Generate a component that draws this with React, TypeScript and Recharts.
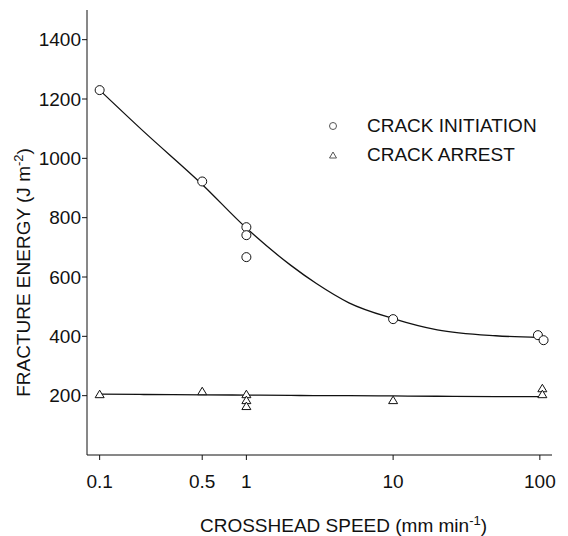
import { ComposedChart, Line, Scatter, XAxis, YAxis, Label } from "recharts";

// crosshead speed (mm/min) ticks and fracture energy ticks
const speedTicks = [0.1, 0.5, 1, 10, 100];
const energyTicks = [200, 400, 600, 800, 1000, 1200, 1400];

// measured points
const initiationSpeed = [0.1, 0.5, 1, 1, 1, 10, 97, 106];
const initiationEnergy = [1230, 922, 768, 741, 667, 458, 404, 387];
const arrestSpeed = [0.1, 0.5, 1, 1, 1, 10, 104, 104];
const arrestEnergy = [205, 215, 205, 185, 165, 185, 225, 205];

// hand-drawn fit curves
const fitSpeed = [0.1, 0.2, 0.5, 1, 2, 3, 5, 10, 20, 50, 100];
const initiationFit = [1230, 1090, 912, 765, 640, 578, 513, 460, 422, 402, 396];
const arrestFit = [205, 204, 203, 202, 201, 200, 200, 199, 198, 197, 197];

const seriesNames = ["CRACK INITIATION", "CRACK ARREST"];

const zip = (xs: number[], ys: number[]) => xs.map((x, i) => ({ x, y: ys[i] }));

const initiationPoints = zip(initiationSpeed, initiationEnergy);
const arrestPoints = zip(arrestSpeed, arrestEnergy);
const initiationCurve = zip(fitSpeed, initiationFit);
const arrestCurve = zip(fitSpeed, arrestFit);

const FONT = '"Liberation Sans", Arial, sans-serif';
const INK = "#111";

const CircleMark = (props: any) => (
  <circle cx={props.cx} cy={props.cy} r={4.5} fill="#fff" stroke={INK} strokeWidth={1} />
);

const TriangleMark = (props: any) => {
  const { cx, cy } = props;
  return (
    <path
      d={`M${cx},${cy - 4} L${cx + 4.5},${cy + 3.5} L${cx - 4.5},${cy + 3.5} Z`}
      fill="#fff"
      stroke={INK}
      strokeWidth={1}
    />
  );
};

const XTitle = ({ viewBox }: any) => (
  <text
    x={viewBox.x + viewBox.width / 2 + 24}
    y={viewBox.y + 77}
    textAnchor="middle"
    fontFamily={FONT}
    fontSize={19}
    fill={INK}
  >
    CROSSHEAD SPEED (mm min
    <tspan dy={-7} fontSize={13}>-1</tspan>
    <tspan dy={7}>)</tspan>
  </text>
);

const YTitle = ({ viewBox }: any) => {
  const cx = viewBox.x + 13;
  const cy = viewBox.y + viewBox.height / 2 + 40;
  return (
    <text
      x={cx}
      y={cy}
      transform={`rotate(-90 ${cx} ${cy})`}
      textAnchor="middle"
      fontFamily={FONT}
      fontSize={19}
      fill={INK}
    >
      FRACTURE ENERGY (J m
      <tspan dy={-7} fontSize={13}>-2</tspan>
      <tspan dy={7}>)</tspan>
    </text>
  );
};

const tickStyle = { fontFamily: FONT, fontSize: 19, fill: INK };

export default function App() {
  return (
    <div style={{ position: "fixed", left: 0, top: 0, width: 568, height: 536, background: "#fff" }}>
      <ComposedChart width={568} height={536} margin={{ top: 10, right: 16, left: 17, bottom: 41 }}>
        <XAxis
          type="number"
          dataKey="x"
          scale="log"
          domain={[0.082, 121]}
          allowDataOverflow
          ticks={speedTicks}
          tickFormatter={(v: number) => String(v)}
          tick={tickStyle}
          tickSize={5}
          tickMargin={15}
          height={40}
          stroke={INK}
        >
          <Label content={XTitle} />
        </XAxis>
        <YAxis
          type="number"
          dataKey="y"
          domain={[0, 1500]}
          ticks={energyTicks}
          tick={tickStyle}
          tickSize={5}
          tickMargin={1}
          width={70}
          stroke={INK}
        >
          <Label content={YTitle} />
        </YAxis>
        <Line
          data={initiationCurve}
          dataKey="y"
          type="monotone"
          stroke={INK}
          strokeWidth={1.3}
          dot={false}
          isAnimationActive={false}
        />
        <Line
          data={arrestCurve}
          dataKey="y"
          type="monotone"
          stroke={INK}
          strokeWidth={1.3}
          dot={false}
          isAnimationActive={false}
        />
        <Scatter data={initiationPoints} dataKey="y" shape={CircleMark} isAnimationActive={false} />
        <Scatter data={arrestPoints} dataKey="y" shape={TriangleMark} isAnimationActive={false} />
      </ComposedChart>
      <div
        style={{
          position: "absolute",
          left: 326,
          top: 111,
          fontFamily: FONT,
          fontSize: 19,
          color: INK,
          lineHeight: "29px",
        }}
      >
        {seriesNames.map((name, i) => (
          <div key={name} style={{ display: "flex", alignItems: "center" }}>
            <svg width={16} height={12} style={{ marginRight: 25 }}>
              {i === 0 ? (
                <circle cx={7} cy={6} r={3.5} fill="#fff" stroke="#555" strokeWidth={1} />
              ) : (
                <path d="M7,3 L10.5,9 L3.5,9 Z" fill="#fff" stroke="#555" strokeWidth={1} />
              )}
            </svg>
            <span>{name}</span>
          </div>
        ))}
      </div>
    </div>
  );
}
